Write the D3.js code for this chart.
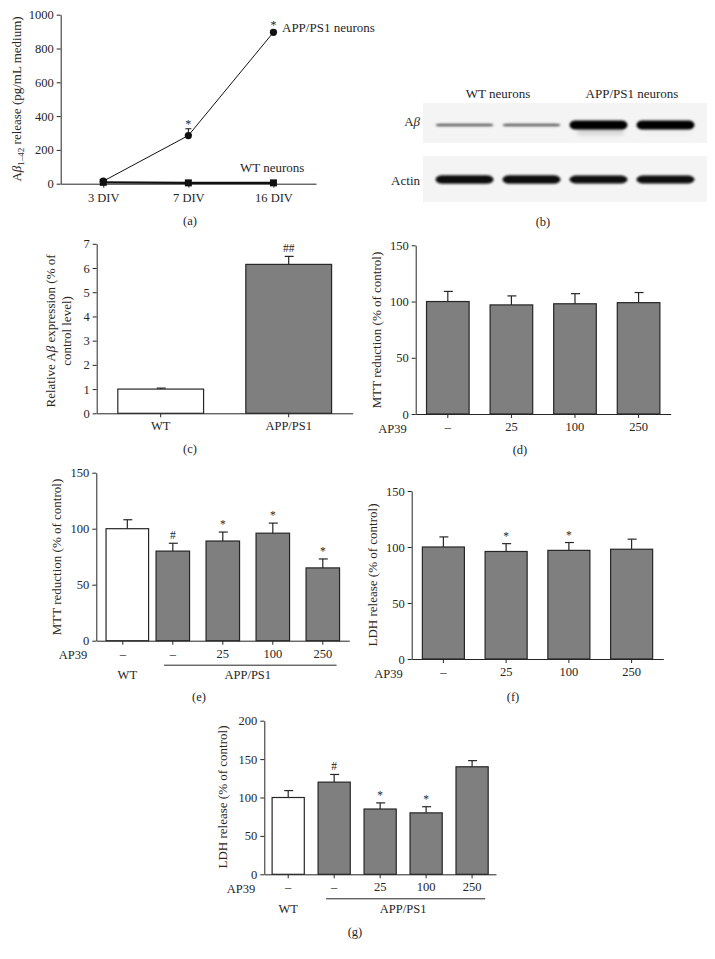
<!DOCTYPE html>
<html>
<head>
<meta charset="utf-8">
<script src="https://cdn.jsdelivr.net/npm/d3@7"></script>
<style>
body { margin: 0; background: #fff; }
svg { display: block; }
svg text { font-family: "Liberation Serif", "Times New Roman", serif; }
</style>
</head>
<body>
<svg width="715" height="959"></svg>
<script>
// (a) Abeta1-42 release over days in vitro
var divDays = ["3 DIV", "7 DIV", "16 DIV"];
var appRelease = [15, 285, 896];
var appReleaseErr = [6, 40, 12];
var appReleaseMark = ["", "*", "*"];
var wtRelease = [8, 5, 5];
var releaseTicks = [0, 200, 400, 600, 800, 1000];

// (b) western blot, one entry per lane
var blotLanes = ["wt1", "wt2", "app1", "app2"];
var blotGroups = ["WT neurons", "APP/PS1 neurons"];
var abBand = [0.3, 0.3, 1, 1];
var abSmear = [0, 0, 0.7, 0.1];
var actinBand = [0.85, 0.85, 0.8, 0.8];

// (c) relative Abeta expression
var exprGroups = ["WT", "APP/PS1"];
var exprValues = [1.0, 6.15];
var exprErr = [0.04, 0.33];
var exprMark = ["", "##"];
var exprTicks = [0, 1, 2, 3, 4, 5, 6, 7];

// (d) MTT, WT neurons + AP39
var ap39Doses = ["–", "25", "100", "250"];
var mttWt = [100, 97, 98, 99];
var mttWtErr = [9, 8, 9, 9];

// (e) MTT, APP/PS1 neurons + AP39
var appDoses = ["–", "–", "25", "100", "250"];
var mttApp = [100, 80, 89, 96, 65];
var mttAppErr = [8, 7, 8, 9, 8];
var mttAppMark = ["", "#", "*", "*", "*"];

// (f) LDH, WT neurons + AP39
var ldhWt = [100, 96, 97, 98];
var ldhWtErr = [9, 7, 7, 9];
var ldhWtMark = ["", "*", "*", ""];

// (g) LDH, APP/PS1 neurons + AP39
var ldhApp = [100, 120, 85, 80, 140];
var ldhAppErr = [9, 10, 8, 8, 8];
var ldhAppMark = ["", "#", "*", "*", ""];

var pctTicks = [0, 50, 100, 150];
var pctTicks200 = [0, 50, 100, 150, 200];

var svg = d3.select("svg");
var ink = "#262626", grey = "#7f7f7f";
var fmt = d3.format("d");

function styleAxis(g) {
  g.attr("font-family", null).attr("font-size", null);
  g.selectAll("path, line").attr("stroke", ink).attr("stroke-width", 1);
  g.selectAll("text").attr("fill", ink).attr("font-size", 12.5);
}

function caption(txt, x, y) {
  svg.append("text").attr("x", x).attr("y", y + 4).attr("text-anchor", "middle")
    .attr("font-size", 12.5).attr("fill", ink).text(txt);
}

function yLabel(lines, x, y) {
  var t = svg.append("text").attr("transform", "translate(" + x + "," + y + ") rotate(-90)")
    .attr("text-anchor", "middle").attr("font-size", 13).attr("fill", ink);
  lines.forEach(function(line, i) {
    t.append("tspan").attr("x", 0).attr("dy", i ? "1.25em" : 0).text(line);
  });
  return t;
}

// ---------- (a) ----------
(function() {
  var x = d3.scalePoint().domain(divDays).range([60.7, 316]).padding(0.5);
  var y = d3.scaleLinear().domain([0, 1000]).range([183.7, 14.7]);
  var g = svg.append("g");

  g.append("g").attr("transform", "translate(60.7,0)")
    .call(d3.axisLeft(y).tickValues(releaseTicks).tickFormat(fmt)
      .tickSize(4).tickSizeOuter(0).tickPadding(3))
    .call(styleAxis);
  g.append("g").attr("transform", "translate(0,183.7)")
    .call(d3.axisBottom(x).tickSize(4).tickSizeOuter(0).tickPadding(5))
    .call(styleAxis);

  // WT line (thick) with squares
  var line = d3.line().x(function(d, i) { return x(divDays[i]); }).y(function(d) { return y(d); });
  g.append("path").datum(wtRelease).attr("d", line).attr("fill", "none")
    .attr("stroke", "#111").attr("stroke-width", 2.2);
  g.selectAll(".sq").data(wtRelease).join("rect")
    .attr("x", function(d, i) { return x(divDays[i]) - 3.5; })
    .attr("y", function(d) { return y(d) - 3.5; })
    .attr("width", 7).attr("height", 7).attr("fill", "#111");

  // APP/PS1 line with circles and error bars
  g.append("path").datum(appRelease).attr("d", line).attr("fill", "none")
    .attr("stroke", "#111").attr("stroke-width", 1);
  appRelease.forEach(function(v, i) {
    var cx = x(divDays[i]), top = y(v + appReleaseErr[i]);
    g.append("line").attr("x1", cx).attr("x2", cx).attr("y1", y(v)).attr("y2", top)
      .attr("stroke", "#111");
    g.append("line").attr("x1", cx - 3).attr("x2", cx + 3).attr("y1", top).attr("y2", top)
      .attr("stroke", "#111");
    if (appReleaseMark[i]) {
      g.append("text").attr("x", cx).attr("y", top - 1).attr("text-anchor", "middle")
        .attr("font-size", 12).attr("fill", ink).text(appReleaseMark[i]);
    }
  });
  g.selectAll(".dot").data(appRelease).join("circle")
    .attr("cx", function(d, i) { return x(divDays[i]); })
    .attr("cy", function(d) { return y(d); })
    .attr("r", 3.6).attr("fill", "#111");

  g.append("text").attr("x", 282).attr("y", 31.5).attr("font-size", 13).attr("fill", ink)
    .text("APP/PS1 neurons");
  g.append("text").attr("x", 240).attr("y", 172).attr("font-size", 13).attr("fill", ink)
    .text("WT neurons");

  var t = svg.append("text").attr("transform", "translate(21,99) rotate(-90)")
    .attr("text-anchor", "middle").attr("font-size", 13).attr("fill", ink);
  t.append("tspan").text("A");
  t.append("tspan").attr("font-style", "italic").text("β");
  t.append("tspan").attr("font-size", 9).attr("dy", 3).text("1–42");
  t.append("tspan").attr("dy", -3).text(" release (pg/mL medium)");

  caption("(a)", 190, 221);
})();

// ---------- (b) western blot ----------
(function() {
  var x = d3.scaleBand().domain(blotLanes).range([423, 707]).paddingInner(0.134).paddingOuter(0.187);
  var g = svg.append("g");
  var defs = svg.append("defs");
  defs.append("filter").attr("id", "blur").attr("x", "-20%").attr("y", "-100%")
    .attr("width", "140%").attr("height", "300%")
    .append("feGaussianBlur").attr("stdDeviation", 0.9);
  defs.append("filter").attr("id", "blur2").attr("x", "-20%").attr("y", "-100%")
    .attr("width", "140%").attr("height", "300%")
    .append("feGaussianBlur").attr("stdDeviation", 2);

  g.append("rect").attr("x", 423).attr("y", 103).attr("width", 284).attr("height", 40).attr("fill", "#f4f4f4");
  g.append("rect").attr("x", 423).attr("y", 156).attr("width", 284).attr("height", 46).attr("fill", "#f4f4f4");

  g.selectAll(".smear").data(abSmear).join("rect")
    .attr("x", function(d, i) { return x(blotLanes[i]) + 8; })
    .attr("y", 127).attr("width", x.bandwidth() - 12).attr("height", 8)
    .attr("fill", "#9a9a9a").attr("opacity", function(d) { return d * 0.5; })
    .attr("filter", "url(#blur2)");

  g.selectAll(".ab").data(abBand).join("rect")
    .attr("x", function(d, i) { return x(blotLanes[i]); })
    .attr("y", function(d) { return 125 - d * 4.5; })
    .attr("width", x.bandwidth())
    .attr("height", function(d) { return d * 9; })
    .attr("rx", 6).attr("ry", function(d) { return d * 4.5; })
    .attr("fill", function(d) { return d3.interpolateGreys(0.6 + 0.4 * d); })
    .attr("filter", "url(#blur)");

  g.selectAll(".actin").data(actinBand).join("rect")
    .attr("x", function(d, i) { return x(blotLanes[i]); })
    .attr("y", function(d) { return 179.5 - d * 5; })
    .attr("width", x.bandwidth())
    .attr("height", function(d) { return d * 10; })
    .attr("rx", 7).attr("ry", function(d) { return d * 5; })
    .attr("fill", "#0d0d0d")
    .attr("filter", "url(#blur)");

  blotGroups.forEach(function(name, k) {
    var a = x(blotLanes[k * 2]), b = x(blotLanes[k * 2 + 1]) + x.bandwidth();
    g.append("text").attr("x", (a + b) / 2).attr("y", 97.5).attr("text-anchor", "middle")
      .attr("font-size", 13).attr("fill", ink).text(name);
  });
  var ab = g.append("text").attr("x", 420).attr("y", 126).attr("text-anchor", "end")
    .attr("font-size", 13).attr("fill", ink);
  ab.append("tspan").text("A");
  ab.append("tspan").attr("font-style", "italic").text("β");
  g.append("text").attr("x", 420).attr("y", 185).attr("text-anchor", "end")
    .attr("font-size", 13).attr("fill", ink).text("Actin");

  caption("(b)", 543, 222);
})();

// ---------- generic bar panel ----------
function barPanel(o) {
  var n = o.values.length;
  var x = d3.scaleBand().domain(d3.range(n)).range([o.x0, o.x1])
    .paddingInner(o.pi).paddingOuter(o.po);
  var y = d3.scaleLinear().domain([0, o.ymax]).range([o.y0, o.y1]);
  var g = svg.append("g");
  var bw = x.bandwidth();
  function width(i) { return o.wideFirst && i === 0 ? bw * 1.27 : bw; }
  function cx(i) { return x(i) + width(i) / 2; }

  g.append("g").attr("transform", "translate(" + o.x0 + ",0)")
    .call(d3.axisLeft(y).tickValues(o.ticks).tickFormat(fmt)
      .tickSize(4).tickSizeOuter(0).tickPadding(3))
    .call(styleAxis);
  g.append("g").attr("transform", "translate(0," + o.y0 + ")")
    .call(d3.axisBottom(x).tickFormat(function(i) { return o.labels[i]; })
      .tickSize(4).tickSizeOuter(0).tickPadding(4))
    .call(styleAxis);

  g.selectAll(".bar").data(o.values).join("rect")
    .attr("x", function(d, i) { return x(i); })
    .attr("y", function(d) { return y(d); })
    .attr("width", function(d, i) { return width(i); })
    .attr("height", function(d) { return o.y0 - y(d); })
    .attr("fill", function(d, i) { return o.fills[i]; })
    .attr("stroke", ink).attr("stroke-width", 1.2);

  o.values.forEach(function(v, i) {
    var top = y(v + o.errs[i]), c = cx(i);
    g.append("line").attr("x1", c).attr("x2", c).attr("y1", y(v)).attr("y2", top)
      .attr("stroke", ink).attr("stroke-width", 1.2);
    g.append("line").attr("x1", c - 4).attr("x2", c + 5).attr("y1", top).attr("y2", top)
      .attr("stroke", ink).attr("stroke-width", 1.2);
    if (o.marks && o.marks[i]) {
      g.append("text").attr("x", c).attr("y", top - 4).attr("text-anchor", "middle")
        .attr("font-size", 11.5).attr("fill", ink).text(o.marks[i]);
    }
  });

  if (o.prefix) {
    g.append("text").attr("x", o.x0 - 9).attr("y", o.y0 + 18.5).attr("text-anchor", "end")
      .attr("font-size", 12.5).attr("fill", ink).text(o.prefix);
  }
  if (o.groups) {
    var a = x(1) + 8, b = x(n - 1) + bw - 3;
    g.append("line").attr("x1", a).attr("x2", b).attr("y1", o.y0 + 24.5).attr("y2", o.y0 + 24.5)
      .attr("stroke", ink).attr("stroke-width", 1);
    g.append("text").attr("x", cx(0)).attr("y", o.y0 + 38.5).attr("text-anchor", "middle")
      .attr("font-size", 12.5).attr("fill", ink).text(o.groups[0]);
    g.append("text").attr("x", (x(1) + x(n - 1) + bw) / 2).attr("y", o.y0 + 38.5)
      .attr("text-anchor", "middle").attr("font-size", 12.5).attr("fill", ink).text(o.groups[1]);
  }
  return g;
}

// ---------- (c) ----------
barPanel({
  x0: 96.7, x1: 352.7, y0: 413.3, y1: 243.8, ymax: 7, ticks: exprTicks,
  pi: 0.33, po: 0.165, labels: exprGroups, values: exprValues, errs: exprErr,
  marks: exprMark, fills: ["#fff", grey]
});
(function() {
  var t = svg.append("text").attr("transform", "translate(55,331) rotate(-90)")
    .attr("text-anchor", "middle").attr("font-size", 13).attr("fill", ink);
  t.append("tspan").text("Relative A");
  t.append("tspan").attr("font-style", "italic").text("β");
  t.append("tspan").text(" expression (% of");
  t.append("tspan").attr("x", 0).attr("dy", "1.25em").text("control level)");
})();
caption("(c)", 190, 449);

// ---------- (d) ----------
barPanel({
  x0: 415.7, x1: 670.7, y0: 414, y1: 245.3, ymax: 150, ticks: pctTicks,
  pi: 0.33, po: 0.17, labels: ap39Doses, values: mttWt, errs: mttWtErr,
  fills: [grey, grey, grey, grey], prefix: "AP39"
});
yLabel(["MTT reduction (% of control)"], 381, 330);
caption("(d)", 520, 450);

// ---------- (e) ----------
barPanel({
  x0: 96.3, x1: 349.3, y0: 640.7, y1: 472.7, ymax: 150, ticks: pctTicks,
  pi: 0.33, po: 0.195, labels: appDoses, values: mttApp, errs: mttAppErr,
  marks: mttAppMark, fills: ["#fff", grey, grey, grey, grey], prefix: "AP39",
  wideFirst: true, groups: ["WT", "APP/PS1"]
});
yLabel(["MTT reduction (% of control)"], 61, 557);
caption("(e)", 199, 697);

// ---------- (f) ----------
barPanel({
  x0: 411.7, x1: 663.3, y0: 659, y1: 491, ymax: 150, ticks: pctTicks,
  pi: 0.33, po: 0.17, labels: ap39Doses, values: ldhWt, errs: ldhWtErr,
  marks: ldhWtMark, fills: [grey, grey, grey, grey], prefix: "AP39"
});
yLabel(["LDH release (% of control)"], 377, 575);
caption("(f)", 513, 697);

// ---------- (g) ----------
barPanel({
  x0: 264.3, x1: 496, y0: 874.3, y1: 720.7, ymax: 200, ticks: pctTicks200,
  pi: 0.3, po: 0.17, labels: appDoses, values: ldhApp, errs: ldhAppErr,
  marks: ldhAppMark, fills: ["#fff", grey, grey, grey, grey], prefix: "AP39",
  groups: ["WT", "APP/PS1"]
});
yLabel(["LDH release (% of control)"], 227, 797);
caption("(g)", 355, 932);
</script>
</body>
</html>
